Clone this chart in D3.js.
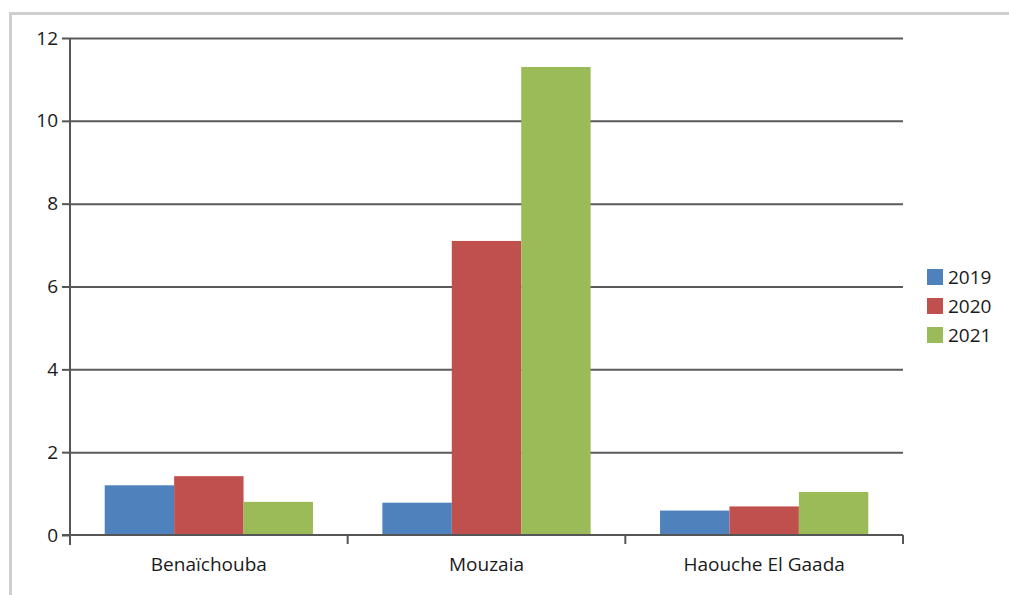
<!DOCTYPE html>
<html lang="en">
<head>
<meta charset="UTF-8">
<script src="https://d3js.org/d3.v7.min.js"></script>
<style>
  body { margin: 0; background: #fff; }
  svg text { font-family: "Open Sans", sans-serif; fill: #1a1a1a; }
</style>
</head>
<body>
<div id="plot"></div>
<script>
// data
const communes = ["Benaïchouba", "Mouzaia", "Haouche El Gaada"];
const years = ["2019", "2020", "2021"];
const values2019 = [1.2, 0.78, 0.59];
const values2020 = [1.42, 7.1, 0.69];
const values2021 = [0.8, 11.3, 1.04];
const yTicks = [0, 2, 4, 6, 8, 10, 12];
const colors = ["#4f81bd", "#c0504d", "#9bbb59"];

const series = [values2019, values2020, values2021];

const width = 1009, height = 595;
const margin = ({top: 38, right: 106, bottom: 60, left: 70});
const visWidth = width - margin.left - margin.right;
const visHeight = height - margin.top - margin.bottom;

const svg = d3.select('#plot').append('svg')
    .attr('width', width)
    .attr('height', height);

// outer frame (only top and left edges visible)
svg.append('rect')
    .attr('x', 10.5).attr('y', 13.5)
    .attr('width', 1100).attr('height', 700)
    .attr('fill', 'none')
    .attr('stroke', '#cfcfcf')
    .attr('stroke-width', 3);

const g = svg.append('g')
    .attr('transform', `translate(${margin.left}, ${margin.top})`);

const x = d3.scaleBand()
    .domain(communes)
    .range([0, visWidth])
    .paddingInner(0.25)
    .paddingOuter(0.125);

const xSub = d3.scaleBand()
    .domain(years)
    .range([0, x.bandwidth()]);

const y = d3.scaleLinear()
    .domain([0, 12])
    .range([visHeight, 0]);

// y axis with grid lines
g.append('g')
    .call(d3.axisLeft(y).tickValues(yTicks).tickSize(8).tickPadding(4).tickFormat(d3.format('d')))
    .call(g => g.select('.domain').attr('stroke', '#555').attr('stroke-width', 2).attr('d', `M0,0V${visHeight + 10}`))
    .call(g => g.selectAll('.tick line').attr('stroke', '#555').attr('stroke-width', 2))
    .call(g => g.selectAll('.tick').filter(d => d > 0).append('line')
        .attr('stroke', '#5a5a5a')
        .attr('stroke-width', 2)
        .attr('x1', 0)
        .attr('x2', visWidth))
    .call(g => g.selectAll('.tick text')
        .attr('font-size', 19)
        .attr('fill', '#1a1a1a'));

// bars
const groups = g.selectAll('.grp')
  .data(communes)
  .join('g')
    .attr('class', 'grp')
    .attr('transform', c => `translate(${x(c)}, 0)`);

groups.selectAll('rect')
  .data((c, i) => years.map((yr, j) => ({yr, v: series[j][i], j})))
  .join('rect')
    .attr('x', d => xSub(d.yr))
    .attr('width', xSub.bandwidth())
    .attr('y', d => y(d.v))
    .attr('height', d => y(0) - y(d.v))
    .attr('fill', d => colors[d.j]);

// x axis: line at zero with ticks between categories
const step = visWidth / communes.length;
const xAxis = g.append('g').attr('transform', `translate(0, ${visHeight})`);
xAxis.append('line')
    .attr('x1', -8).attr('x2', visWidth)
    .attr('stroke', '#555').attr('stroke-width', 2);
xAxis.selectAll('.sep')
  .data(d3.range(1, communes.length + 1))
  .join('line')
    .attr('class', 'sep')
    .attr('x1', i => i * step).attr('x2', i => i * step)
    .attr('y1', 0).attr('y2', 9)
    .attr('stroke', '#555').attr('stroke-width', 2);
xAxis.selectAll('.lbl')
  .data(communes)
  .join('text')
    .attr('class', 'lbl')
    .attr('x', c => x(c) + x.bandwidth() / 2)
    .attr('y', 36)
    .attr('text-anchor', 'middle')
    .attr('font-size', 19)
    .text(c => c);

// legend
const legend = svg.append('g').attr('transform', 'translate(927, 269)');
const item = legend.selectAll('g')
  .data(years)
  .join('g')
    .attr('transform', (d, i) => `translate(0, ${i * 29})`);
item.append('rect')
    .attr('width', 16).attr('height', 16)
    .attr('fill', (d, i) => colors[i]);
item.append('text')
    .attr('x', 21).attr('y', 15)
    .attr('font-size', 19)
    .text(d => d);
</script>
</body>
</html>
